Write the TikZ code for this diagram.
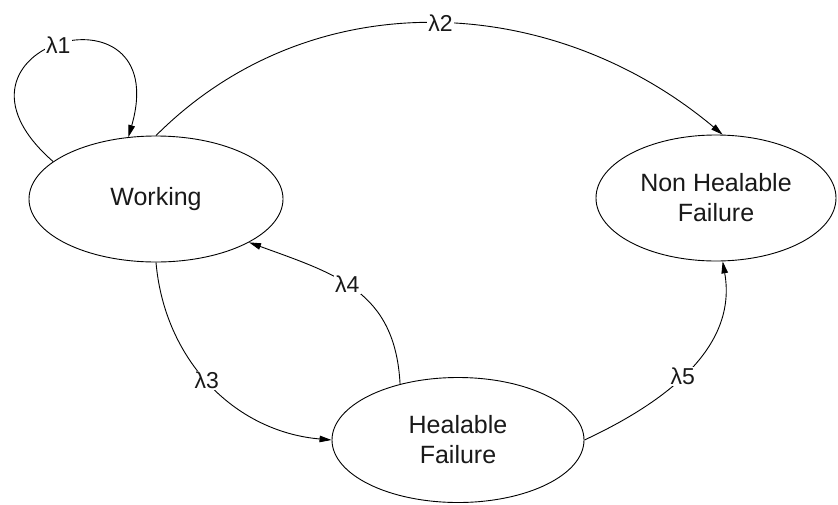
\documentclass[tikz,border=0pt]{standalone}
\usepackage{fontspec}
\setmainfont{Liberation Sans}
\usetikzlibrary{shapes.geometric,arrows.meta}
\begin{document}
\begin{tikzpicture}[x=1pt,y=-1pt,
  state/.style={draw, ellipse, line width=0.9pt, inner sep=0pt, align=center,
    text=black!90, font=\fontsize{25}{30}\selectfont},
  trans/.style={line width=0.9pt, -{Triangle[length=12pt,width=6.5pt]}},
  rate/.style={fill=white, inner sep=1.2pt, text=black!90,
    font=\fontsize{23}{28}\selectfont}]
\useasboundingbox (0,0) rectangle (838,504);

% states
\node[state, minimum width=254pt, minimum height=126pt] (W) at (156,199) {Working};
\node[state, minimum width=240pt, minimum height=126pt] (N) at (716,198) {Non Healable\\Failure};
\node[state, minimum width=252pt, minimum height=125pt] (H) at (458,440) {Healable\\Failure};

% transitions
\draw[trans] (W.160) .. controls (-80,45) and (175,-25) .. node[rate, pos=0.5] {λ1} (W.114);
\draw[trans] (W.north) to[out=45, in=140] node[rate, pos=0.51] {λ2} (N.84);
\draw[trans] (W.south) to[out=-85, in=175] node[rate, pos=0.48] {λ3} (H.west);
\draw[trans] (H.136) to[out=93, in=-20, looseness=1.15] node[rate, pos=0.55] {λ4} (W.-25);
\draw[trans] (H.east) to[out=25, in=-80] node[rate, pos=0.46] {λ5} (N.-84);
\end{tikzpicture}
\end{document}
